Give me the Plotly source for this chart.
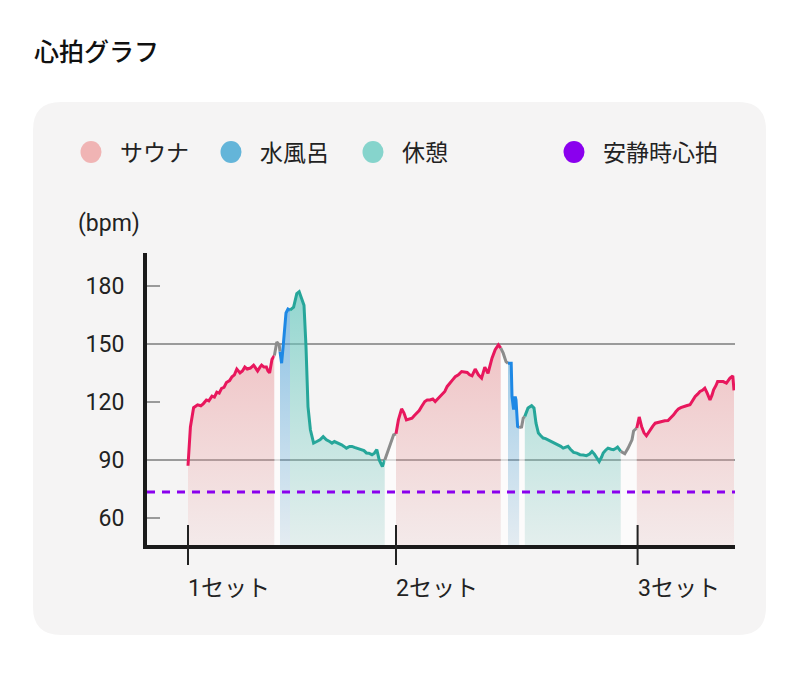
import plotly.graph_objects as go

# ---------------- data ----------------
minutes = [
    0.0, 0.3, 0.7, 1.0, 1.2, 1.6, 1.9, 2.3, 2.6, 3.0, 3.3, 3.6, 3.9, 4.2, 4.5, 4.8, 5.2, 5.5, 5.8, 6.1,
    6.5, 6.8, 7.1, 7.4, 7.8, 8.2, 8.5, 8.7, 9.0, 9.2, 9.5, 9.8, 10.0, 10.2, 10.5, 10.8,
    11.1, 11.4, 11.5,
    11.7, 11.9, 12.25, 12.5, 12.75,
    13.2, 13.6, 13.9, 14.2, 14.5, 14.75, 15.0, 15.3, 15.7, 16.1, 16.5, 16.9, 17.3, 17.7, 18.0, 18.3,
    18.6, 19.0, 19.2, 19.5, 19.8, 20.2, 20.5, 20.8, 21.1, 21.4, 21.7, 22.0, 22.3, 22.6, 23.0, 23.3,
    23.6, 23.9, 24.3, 24.6,
    25.0, 25.4, 25.7, 26.0,
    26.3, 26.7, 27.0, 27.3, 27.6, 28.0, 28.3, 28.6, 28.9, 29.2, 29.6, 29.9, 30.25, 30.6, 30.9, 31.2,
    31.5, 31.8, 32.1, 32.4, 32.75, 33.1, 33.4, 33.8, 34.2, 34.5, 34.9, 35.2, 35.5, 35.9, 36.3, 36.7,
    37.1, 37.5, 38.0, 38.4, 38.8, 39.1,
    39.4, 39.75, 40.0,
    40.4, 40.5, 40.7, 40.9, 41.0, 41.2, 41.4,
    41.7, 41.9, 42.1,
    42.5, 42.95, 43.25, 43.5, 43.8, 44.1, 44.4, 44.7, 45.0, 45.4, 45.7, 46.0, 46.3, 46.6, 46.9, 47.2,
    47.5, 47.8, 48.2, 48.6, 49.0, 49.4, 49.8, 50.2, 50.5, 50.8, 51.1, 51.4, 51.7, 51.9, 52.2, 52.5,
    52.9, 53.2, 53.5, 53.7, 54.1,
    54.6, 55.0, 55.5, 55.7, 56.1,
    56.4, 56.7, 57.0, 57.3, 57.75, 58.1, 58.4, 58.8, 59.2, 59.6, 60.0, 60.3, 60.7, 61.0, 61.3, 61.6,
    61.9, 62.3, 62.75, 63.1, 63.4, 63.7, 64.0, 64.3, 64.6, 64.9, 65.25, 65.5, 65.7, 66.0, 66.2, 66.6,
    66.9, 67.3, 67.5, 67.75, 68.1, 68.25,
]
bpm = [
    87, 107, 117, 118, 118.5, 118, 119, 121, 120.5, 123, 122.5, 125, 124.5, 127, 127.5, 130, 131, 133, 134, 137,
    135, 136, 138, 137, 137.5, 139, 137, 136, 138, 139, 138, 138, 136, 135, 142, 144,
    151, 149.5, 146,
    140, 149, 166, 168, 167.5,
    169, 176, 177, 173.5, 170, 148.6, 117.6, 105.6, 98.7, 99.5, 100.4, 102, 100.4, 99.5, 98.7, 99.5,
    99, 98.5, 97.8, 97, 96.1, 97, 97, 96.5, 96.1, 96, 95.3, 94.8, 93.6, 93.5, 92.7, 93.5,
    95.3, 90, 86.6, 90,
    95, 99, 103, 103.5,
    110.7, 116.4, 114.2, 110.7, 111, 111.6, 113, 114.2, 115.5, 117.6, 120.2, 121, 121, 121.5, 120.2, 121.5,
    122.8, 124, 125.4, 128, 130, 131.5, 133, 134, 135.7, 135.5, 135.2, 134, 133.5, 137, 134, 132.3,
    138, 134.8, 142.6, 147, 149.5, 147.8,
    145.2, 140.8, 140,
    140, 122.8, 116, 122.8, 121, 107.3, 106.8,
    107, 111.6, 112.5,
    116.8, 118, 116.8, 109, 103.9, 102.5, 101.3, 101, 100.4, 99.5, 98.7, 98.2, 97.8, 97, 96.1, 96.5,
    97, 95.5, 93.9, 93.5, 92.7, 92.5, 92.2, 93, 94.4, 93, 91, 89.2, 91.5, 93.6, 95, 96.1,
    95.5, 95.3, 96, 96.6, 94.4,
    93.2, 96, 100.4, 105, 106.5,
    112.2, 107.3, 104, 102.5, 105.6, 107.5, 109, 109.5, 110, 110.2, 110.4, 111.5, 113.3, 115, 116.3, 117,
    117.6, 118, 118.5, 121, 122.8, 124, 125.4, 126, 127.1, 124.5, 121, 123.5, 126.2, 128.5, 130.5, 130.5,
    130.5, 129.7, 131, 132.3, 133.5, 126,
]
phase = (
    ["S"] * 36 + ["M"] * 3 + ["W"] * 5 + ["R"] * 36 + ["M"] * 4 + ["S"] * 38 + ["M"] * 3
    + ["W"] * 7 + ["M"] * 3 + ["R"] * 37 + ["M"] * 5 + ["S"] * 38
)

set_minutes = [0, 26, 56.2]
set_labels = ["1セット", "2セット", "3セット"]
y_ticks = [60, 90, 120, 150, 180]
grid_values = [90, 150]
resting_hr = 73.4
legend_labels = ["サウナ", "水風呂", "休憩", "安静時心拍"]
legend_colors = ["#f0b4b4", "#64b5d9", "#86d4cc", "#8a00ee"]

# ---------------- styles ----------------
FONT = "Roboto, 'Noto Sans CJK JP', sans-serif"
line_color = {"S": "#e8175d", "W": "#1e88e5", "R": "#26a69a", "M": "#8c8c8c"}
fill_top = {"S": "rgba(235,150,155,0.65)", "W": "rgba(80,165,220,0.70)", "R": "rgba(100,200,190,0.70)"}
fill_bot = {"S": "rgba(235,160,160,0.12)", "W": "rgba(100,175,220,0.12)", "R": "rgba(120,205,195,0.14)"}

OFF = 8  # page body margin
W, H = 800 - OFF, 687 - OFF
L, R, T, B = 147, 735, 253, 545  # plot box in reference page pixels
def px_x(px):
    return (px - L) / (R - L)
def px_y(py):
    return (B - py) / (B - T)

Y_MIN, Y_MAX = 46, 197

fig = go.Figure()

segments = []
start = 0
for i in range(1, len(phase) + 1):
    if i == len(phase) or phase[i] != phase[start]:
        s = start - 1 if start > 0 else 0
        segments.append((phase[start], minutes[s:i], bpm[s:i]))
        start = i

for ph, xs, ys in segments:
    kw = dict(x=xs, y=ys, mode="lines", line=dict(color=line_color[ph], width=3),
              fill="tozeroy", hoverinfo="skip", showlegend=False)
    if ph == "M":
        kw["fillcolor"] = "rgba(255,255,255,0.65)"
    else:
        kw["fillgradient"] = dict(type="vertical", start=Y_MIN, stop=180,
                                  colorscale=[[0, fill_bot[ph]], [1, fill_top[ph]]])
    fig.add_trace(go.Scatter(**kw))

shapes = []
x0, x1 = px_x(33), px_x(766)
y0, y1 = px_y(635), px_y(102)
rx, ry = 28 / (R - L), 28 / (B - T)
card = (f"M {x0+rx},{y0} L {x1-rx},{y0} Q {x1},{y0} {x1},{y0+ry} L {x1},{y1-ry} "
        f"Q {x1},{y1} {x1-rx},{y1} L {x0+rx},{y1} Q {x0},{y1} {x0},{y1-ry} "
        f"L {x0},{y0+ry} Q {x0},{y0} {x0+rx},{y0} Z")
shapes.append(dict(type="path", path=card, xref="paper", yref="paper",
                   fillcolor="#f5f4f4", line=dict(width=0), layer="below"))
for g in grid_values:
    shapes.append(dict(type="line", xref="paper", x0=0, x1=1, yref="y", y0=g, y1=g,
                       line=dict(color="#9a9a9a", width=2), layer="below"))
shapes.append(dict(type="line", xref="paper", x0=0, x1=1, yref="y", y0=resting_hr, y1=resting_hr,
                   line=dict(color="#8a00ee", width=3, dash="8px,7px"), layer="above"))
for sx in set_minutes:
    shapes.append(dict(type="line", xref="x", x0=sx, x1=sx, yref="paper",
                       y0=px_y(565), y1=px_y(525), line=dict(color="#222", width=2)))
legend_px = [91, 231, 373, 574]
for cx, col in zip(legend_px, legend_colors):
    shapes.append(dict(type="circle", xref="paper", yref="paper",
                       x0=px_x(cx - 10.5), x1=px_x(cx + 10.5), y0=px_y(163), y1=px_y(141),
                       fillcolor=col, line=dict(width=0)))

annotations = []
for cx, lab in zip(legend_px, legend_labels):
    annotations.append(dict(text=lab, xref="paper", yref="paper", x=px_x(cx + 27), y=px_y(153),
                            xanchor="left", yanchor="middle", showarrow=False,
                            font=dict(size=23, color="#222", family=FONT)))
annotations.append(dict(text="(bpm)", xref="paper", yref="paper", x=px_x(76), y=px_y(223),
                        xanchor="left", yanchor="middle", showarrow=False,
                        font=dict(size=23, color="#222", family=FONT)))
for sx, lab in zip(set_minutes, set_labels):
    annotations.append(dict(text=lab, xref="x", yref="paper", x=sx, y=px_y(588),
                            xanchor="left", yanchor="middle", xshift=-2, showarrow=False,
                            font=dict(size=23, color="#222", family=FONT)))

fig.update_layout(
    width=W, height=H,
    margin=dict(l=L - OFF, r=W - (R - OFF), t=T - OFF, b=H - (B - OFF), pad=0),
    paper_bgcolor="white", plot_bgcolor="rgba(0,0,0,0)",
    title=dict(text="心拍グラフ", x=(34 - OFF) / W, xref="container", xanchor="left",
               y=1 - (52 - OFF) / H, yref="container", yanchor="middle",
               font=dict(size=25, color="#111", family=FONT, weight=500)),
    shapes=shapes, annotations=annotations, showlegend=False,
    xaxis=dict(range=[-5.125, 68.375], showgrid=False, zeroline=False, showticklabels=False,
               ticks="", showline=True, linecolor="#1a1a1a", linewidth=4, fixedrange=True),
    yaxis=dict(range=[Y_MIN, Y_MAX], showgrid=False, zeroline=False, tickvals=y_ticks,
               ticks="inside", ticklen=13, tickwidth=2, tickcolor="#9a9a9a",
               tickfont=dict(size=23, color="#222", family=FONT), ticklabelstandoff=14,
               showline=True, linecolor="#1a1a1a", linewidth=4, fixedrange=True),
)

fig.write_html("out.html")
